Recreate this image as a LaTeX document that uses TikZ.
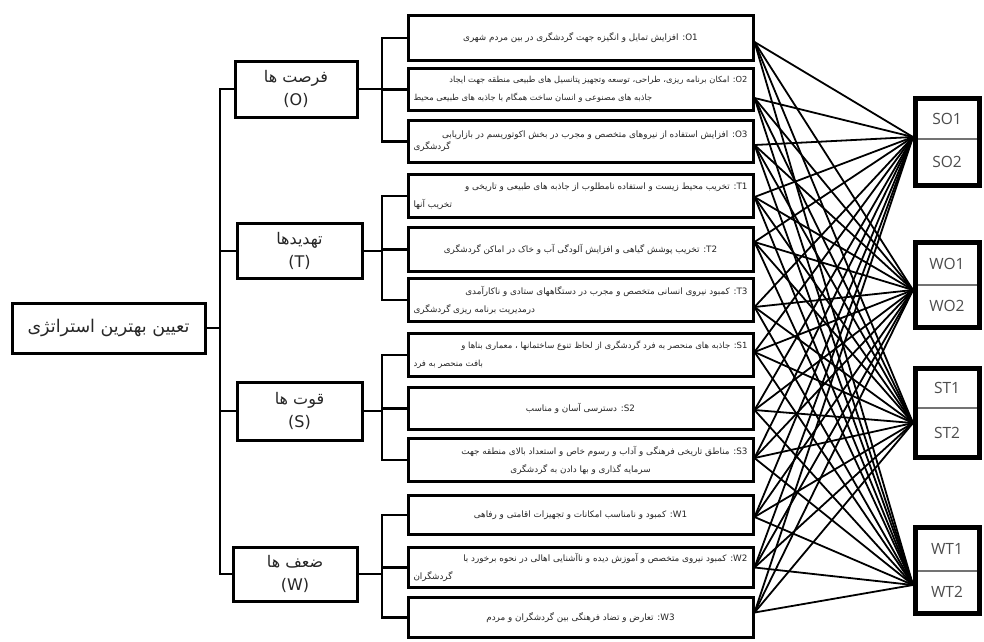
\documentclass[tikz,border=0pt]{standalone}
\usepackage{fontspec}
\setmainfont{DejaVu Sans}
\newfontfamily\fa[Script=Arabic]{DejaVu Sans}
\newfontfamily\lat{Open Sans}
\TeXXeTstate=1
\usetikzlibrary{fit}
\newcommand\rtl[1]{\beginR #1\endR}
\newcommand\lab[1]{\beginL #1\endL}
\newcommand\lineR[1]{\makebox[334pt][r]{\rtl{#1}}}
\newcommand\lineL[1]{\makebox[334pt][l]{\rtl{#1}}}
\newcommand\lineC[1]{\makebox[334pt][c]{\rtl{#1}}}
\begin{document}
\begin{tikzpicture}[x=1pt,y=-1pt,
  every node/.style={inner sep=0pt, outer sep=0pt},
  subbox/.style={draw, line width=3pt, minimum width=345pt, align=center,
    font=\fa\fontsize{8.8}{18}\selectfont, text=black!85},
  catbox/.style={draw, line width=3pt, align=center,
    font=\fa\fontsize{16}{23}\selectfont, text=black!85},
  rootbox/.style={draw, line width=3pt, minimum width=193pt, minimum height=50pt,
    font=\fa\fontsize{17.5}{20}\selectfont, text=black!85},
  half/.style={draw=black!55, line width=1.5pt, minimum width=64pt,
    font=\lat\fontsize{15.5}{18}\selectfont, text=black!70},
  outer/.style={draw, line width=5pt, inner sep=0pt},
  tree/.style={line width=2.6pt},
  link/.style={line width=1.8pt}
]
\fill[white] (0,0) rectangle (984,641);
\useasboundingbox (0,0) rectangle (984,641);

% root
\node[rootbox] (root) at (108.5,328) {\rtl{تعیین بهترین استراتژی}};

% categories
\node[catbox, minimum width=122pt, minimum height=56pt] (O) at (296,89) {\rtl{فرصت ها}\\(O)};
\node[catbox, minimum width=125pt, minimum height=55pt] (T) at (299.5,251) {\rtl{تهدیدها}\\(T)};
\node[catbox, minimum width=125pt, minimum height=58pt] (S) at (299.5,411) {\rtl{قوت ها}\\(S)};
\node[catbox, minimum width=124pt, minimum height=54pt] (W) at (295,574) {\rtl{ضعف ها}\\(W)};

% sub boxes
\node[subbox, minimum height=45pt] (o1) at (580.5,38) {\lineC{\lab{O1}: افزایش تمایل و انگیزه جهت گردشگری در بین مردم شهری}};
\node[subbox, minimum height=42pt, font=\fa\fontsize{8.3}{18}\selectfont] (o2) at (580.5,89.5) {\lineR{\lab{O2}: امکان برنامه ریزی، طراحی، توسعه وتجهیز پتانسیل های طبیعی منطقه جهت ایجاد}\\\lineL{جاذبه های مصنوعی و انسان ساخت همگام با جاذبه های طبیعی محیط}};
\node[subbox, minimum height=42pt, font=\fa\fontsize{8.8}{12}\selectfont] (o3) at (580.5,141.5) {\lineR{\lab{O3}: افزایش استفاده از نیروهای متخصص و مجرب در بخش اکوتوریسم در بازاریابی}\\\lineL{گردشگری}};
\node[subbox, minimum height=43pt] (t1) at (580.5,196) {\lineR{\lab{T1}: تخریب محیط زیست و استفاده نامطلوب از جاذبه های طبیعی و تاریخی و}\\\lineL{تخریب آنها}};
\node[subbox, minimum height=44pt] (t2) at (580.5,249.5) {\lineC{\lab{T2}: تخریب پوشش گیاهی و افزایش آلودگی آب و خاک در اماکن گردشگری}};
\node[subbox, minimum height=43pt] (t3) at (580.5,300) {\lineR{\lab{T3}: کمبود نیروی انسانی متخصص و مجرب در دستگاههای ستادی و ناکارآمدی}\\\lineL{درمدیریت برنامه ریزی گردشگری}};
\node[subbox, minimum height=43pt, font=\fa\fontsize{8.5}{18}\selectfont] (s1) at (580.5,355) {\lineR{\lab{S1}: جاذبه های منحصر به فرد گردشگری از لحاظ تنوع ساختمانها ، معماری بناها و}\\\lineL{بافت منحصر به فرد}};
\node[subbox, minimum height=42pt] (s2) at (580.5,408.5) {\lineC{\lab{S2}: دسترسی آسان و مناسب}};
\node[subbox, minimum height=43pt] (s3) at (580.5,460) {\lineR{\lab{S3}: مناطق تاریخی فرهنگی و آداب و رسوم خاص و استعداد بالای منطقه جهت}\\\lineC{سرمایه گذاری و بها دادن به گردشگری}};
\node[subbox, minimum height=39pt] (w1) at (580.5,515) {\lineC{\lab{W1}: کمبود و نامناسب امکانات و تجهیزات اقامتی و رفاهی}};
\node[subbox, minimum height=40pt] (w2) at (580.5,567.5) {\lineR{\lab{W2}: کمبود نیروی متخصص و آموزش دیده و ناآشنایی اهالی در نحوه برخورد با}\\\lineL{گردشگران}};
\node[subbox, minimum height=40pt] (w3) at (580.5,617.5) {\lineC{\lab{W3}: تعارض و تضاد فرهنگی بین گردشگران و مردم}};

% right boxes
\node[half, minimum height=41pt] (so1) at (947,118.5) {SO1};
\node[half, minimum height=46pt] (so2) at (947,162) {SO2};
\node[outer, fit=(so1)(so2)] (so) {};
\node[half, minimum height=43pt] (wo1) at (947,263.5) {WO1};
\node[half, minimum height=42pt] (wo2) at (947,306) {WO2};
\node[outer, fit=(wo1)(wo2)] (wo) {};
\node[half, minimum height=40pt] (st1) at (947,388) {ST1};
\node[half, minimum height=49pt] (st2) at (947,432.5) {ST2};
\node[outer, fit=(st1)(st2)] (st) {};
\node[half, minimum height=44pt] (wt1) at (947,549) {WT1};
\node[half, minimum height=42pt] (wt2) at (947,592) {WT2};
\node[outer, fit=(wt1)(wt2)] (wt) {};

% tree
\coordinate (tx) at (220,0);
\coordinate (bx) at (382,0);
\foreach \c in {O,T,S,W}
  \draw[tree] (root.east) -- (root.east -| tx) |- (\c.west);
\foreach \c/\s in {O/o1,O/o2,O/o3,T/t1,T/t2,T/t3,S/s1,S/s2,S/s3,W/w1,W/w2,W/w3}
  \draw[tree] (\c.east) -- (\c.east -| bx) |- (\s.west);

% links
\foreach \s/\dy in {o1/4,o2/8.5,o3/3.5,t1/1,t2/-7.5,t3/7,s1/-3,s2/1.5,s3/-2,w1/2,w2/0,w3/-5}
  \foreach \t/\ty in {so/-4.5,wo/5.5,st/10.5,wt/15}
    \draw[link] ([shift={(1.5,\dy)}]\s.east) -- ([shift={(-2,\ty)}]\t.west);
\end{tikzpicture}
\end{document}
